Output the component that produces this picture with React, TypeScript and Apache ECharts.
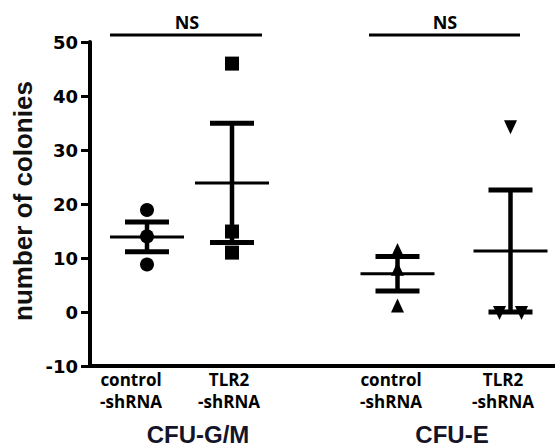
import React, { useEffect, useRef } from "react";
import * as echarts from "echarts";

// ---- data ----
const columnNames = ["control-shRNA CFU-G/M", "TLR2-shRNA CFU-G/M", "control-shRNA CFU-E", "TLR2-shRNA CFU-E"];
const columnX = [57, 142, 307.5, 420.5]; // column centres on the hidden x scale
const ctrlGM = [18.9, 14.0, 8.8];
const tlr2GM = [46.0, 14.9, 11.0];
const ctrlE = [11.5, 8.0, 1.2];
const tlr2E = [34.2, -0.2, -0.2];
const tlr2EJitter = [0, -11, 11];
const means = [13.9, 23.9, 7.1, 11.3];
const sems = [2.75, 11.05, 3.2, 11.3];
const yMin = -10;
const yMax = 50;
const yInterval = 10;
const catLine1 = ["control", "TLR2", "control", "TLR2"];
const catLine2 = ["-shRNA", "-shRNA", "-shRNA", "-shRNA"];
const groupNames = ["CFU-G/M", "CFU-E"];
const sigLabels = ["NS", "NS"];

export default function App() {
  const ref = useRef<HTMLDivElement>(null);
  useEffect(() => {
    if (!ref.current) return;
    const chart = echarts.init(ref.current, null, { renderer: "svg" });

    const errData = means.map((m, i) => [columnX[i], m, sems[i]]);

    const labelFont = "'Open Sans', sans-serif";
    const catCenters = [131, 229, 391, 503];
    const groupCenters = [198, 452];
    const sigCenters = [187, 445];
    const sigLines = [[110, 262], [369, 520]];

    const graphics: any[] = [];
    catLine1.forEach((t, i) => {
      graphics.push({
        type: "text", x: catCenters[i], y: 379,
        style: { text: t, font: `bold 17px ${labelFont}`, fill: "#000", align: "center", verticalAlign: "middle" },
      });
      graphics.push({
        type: "text", x: catCenters[i], y: 401,
        style: { text: catLine2[i], font: `bold 17px ${labelFont}`, fill: "#000", align: "center", verticalAlign: "middle" },
      });
    });
    groupNames.forEach((t, i) => {
      graphics.push({
        type: "text", x: groupCenters[i], y: 434,
        style: { text: t, font: "bold 24px 'Liberation Sans', Arial, sans-serif", fill: "#141428", align: "center", verticalAlign: "middle" },
      });
    });
    sigLabels.forEach((t, i) => {
      graphics.push({
        type: "text", x: sigCenters[i], y: 22,
        style: { text: t, font: `bold 18px ${labelFont}`, fill: "#000", align: "center", verticalAlign: "middle" },
      });
      graphics.push({
        type: "line",
        shape: { x1: sigLines[i][0], y1: 35, x2: sigLines[i][1], y2: 35 },
        style: { stroke: "#000", lineWidth: 3 },
      });
    });
    graphics.push({
      type: "text", x: 23, y: 201, rotation: Math.PI / 2,
      style: { text: "number of colonies", font: "bold 26px 'Liberation Sans', Arial, sans-serif", fill: "#111", align: "center", verticalAlign: "middle" },
    });

    const pts = (vals: number[], col: number, jit?: number[]) =>
      vals.map((v, k) => [columnX[col] + (jit ? jit[k] : 0), v]);

    const markerStyle = { color: "#000", opacity: 1 };

    chart.setOption({
      animation: false,
      grid: { left: 90, right: 0, top: 42, bottom: 80, containLabel: false, outerBoundsMode: "none" },
      xAxis: {
        type: "value", min: 0, max: 465,
        axisLine: { show: true, onZero: false, lineStyle: { color: "#000", width: 4 } },
        axisTick: { show: false }, axisLabel: { show: false }, splitLine: { show: false },
      },
      yAxis: {
        type: "value", min: yMin, max: yMax, interval: yInterval,
        axisLine: { show: true, lineStyle: { color: "#000", width: 4 } },
        axisTick: { show: true, length: 9, lineStyle: { color: "#000", width: 3 } },
        axisLabel: { color: "#000", fontFamily: "'DejaVu Sans', sans-serif", fontWeight: "bold", fontSize: 18, margin: 12 },
        splitLine: { show: false },
      },
      graphic: graphics,
      series: [
        {
          type: "custom",
          name: "mean ± SEM",
          data: errData,
          renderItem: (params: any, api: any) => {
            const x = api.value(0);
            const m = api.value(1);
            const s = api.value(2);
            const pm = api.coord([x, m]);
            const pHi = api.coord([x, m + s]);
            const pLo = api.coord([x, m - s]);
            const halfMean = 37;
            const halfCap = 22;
            const stroke = { stroke: "#000" };
            return {
              type: "group",
              children: [
                { type: "line", shape: { x1: pm[0], y1: pHi[1], x2: pm[0], y2: pLo[1] }, style: { ...stroke, lineWidth: 4.5 } },
                { type: "line", shape: { x1: pm[0] - halfCap, y1: pHi[1], x2: pm[0] + halfCap, y2: pHi[1] }, style: { ...stroke, lineWidth: 5 } },
                { type: "line", shape: { x1: pm[0] - halfCap, y1: pLo[1], x2: pm[0] + halfCap, y2: pLo[1] }, style: { ...stroke, lineWidth: 5 } },
                { type: "line", shape: { x1: pm[0] - halfMean, y1: pm[1], x2: pm[0] + halfMean, y2: pm[1] }, style: { ...stroke, lineWidth: 3 } },
              ],
            };
          },
          z: 2,
        },
        { type: "scatter", name: columnNames[0], data: pts(ctrlGM, 0), symbol: "circle", symbolSize: 14, itemStyle: markerStyle, z: 3 },
        { type: "scatter", name: columnNames[1], data: pts(tlr2GM, 1), symbol: "rect", symbolSize: 14, itemStyle: markerStyle, z: 3 },
        { type: "scatter", name: columnNames[2], data: pts(ctrlE, 2), symbol: "triangle", symbolSize: [13, 14], itemStyle: markerStyle, z: 3 },
        { type: "scatter", name: columnNames[3], data: pts(tlr2E, 3, tlr2EJitter), symbol: "triangle", symbolRotate: 180, symbolSize: [13, 14], itemStyle: markerStyle, z: 3 },
      ],
    });
    return () => chart.dispose();
  }, []);
  return <div ref={ref} style={{ width: 555, height: 446, position: "absolute", left: 0, top: 0 }} />;
}
